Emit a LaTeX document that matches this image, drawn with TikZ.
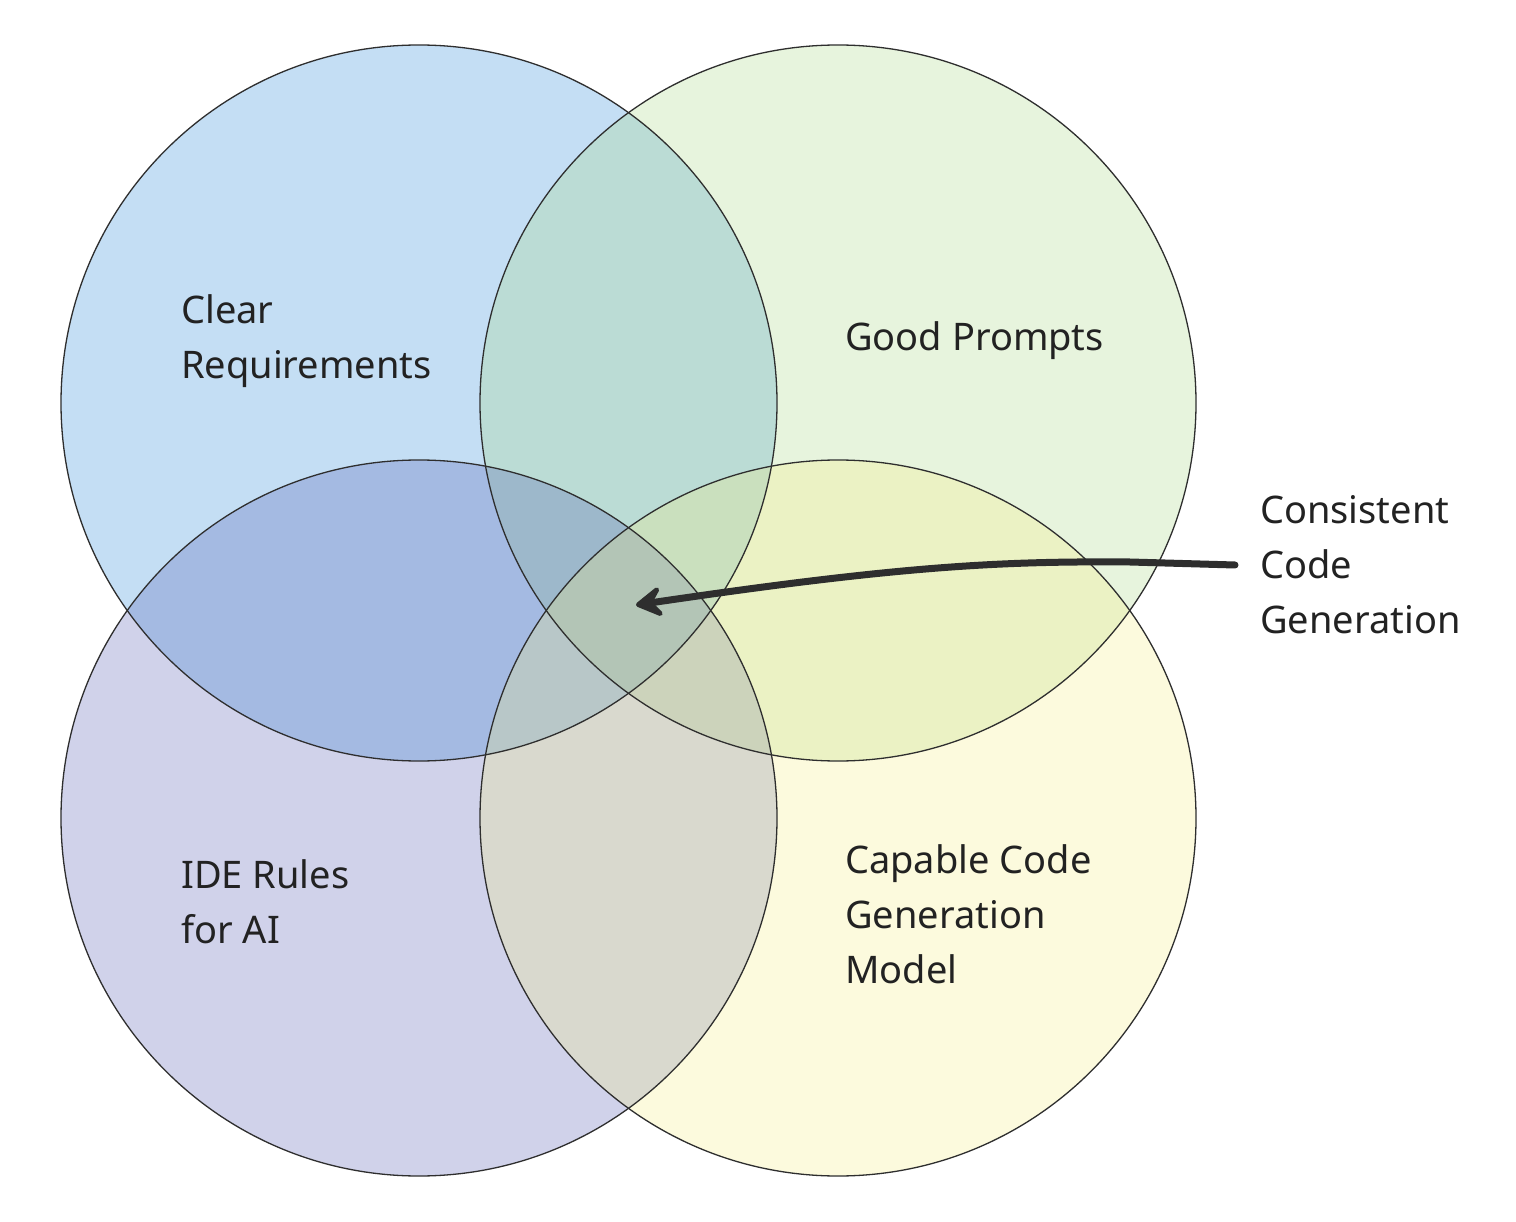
\documentclass[tikz,border=0pt]{standalone}
\usepackage{fontspec}
\setmainfont{Noto Sans}
\usetikzlibrary{arrows.meta}
\definecolor{cblue}{RGB}{23,127,215}
\definecolor{cgreen}{RGB}{163,215,123}
\definecolor{cpurple}{RGB}{71,79,175}
\definecolor{cyellow}{RGB}{247,239,123}
\definecolor{ink}{HTML}{2E2E2E}
\definecolor{txt}{HTML}{222222}
\begin{document}
\begin{tikzpicture}[x=1pt,y=-1pt,
  disc/.style={fill opacity=0.25},
  ring/.style={draw=ink,line width=1.3pt},
  lbl/.style={font=\fontsize{38}{55}\selectfont,text=txt,align=left,inner sep=0pt},
  pointer/.style={draw=ink,line width=7pt,line cap=round,
    -{Stealth[length=34pt,width=40pt,inset=15pt,round]}}]
\useasboundingbox (0,0) rectangle (1516,1222);
\fill[white] (0,0) rectangle (1516,1222);
\fill[disc,cblue]   (419,403) circle[radius=358];
\fill[disc,cgreen]  (838,403) circle[radius=358];
\fill[disc,cpurple] (419,818) circle[radius=358];
\fill[disc,cyellow] (838,818) circle[radius=358];
\draw[ring] (419,403) circle[radius=358];
\draw[ring] (838,403) circle[radius=358];
\draw[ring] (419,818) circle[radius=358];
\draw[ring] (838,818) circle[radius=358];

\node[lbl,anchor=base west] (clear) at (181,379) {Clear\\Requirements};
\node[lbl,anchor=base west] (good) at (845,351) {Good Prompts};
\node[lbl,anchor=base west] (ide) at (181,943) {IDE Rules\\for AI};
\node[lbl,anchor=base west] (capable) at (845,983) {Capable Code\\Generation\\Model};
\node[lbl,anchor=west,inner xsep=25pt] (cons) at (1235,565) {Consistent\\Code\\Generation};

\coordinate (tip) at (636,605);
\draw[pointer] (cons.west) -- (1130,562) .. controls (1000,561) and (900,566) .. (tip);
\end{tikzpicture}
\end{document}
